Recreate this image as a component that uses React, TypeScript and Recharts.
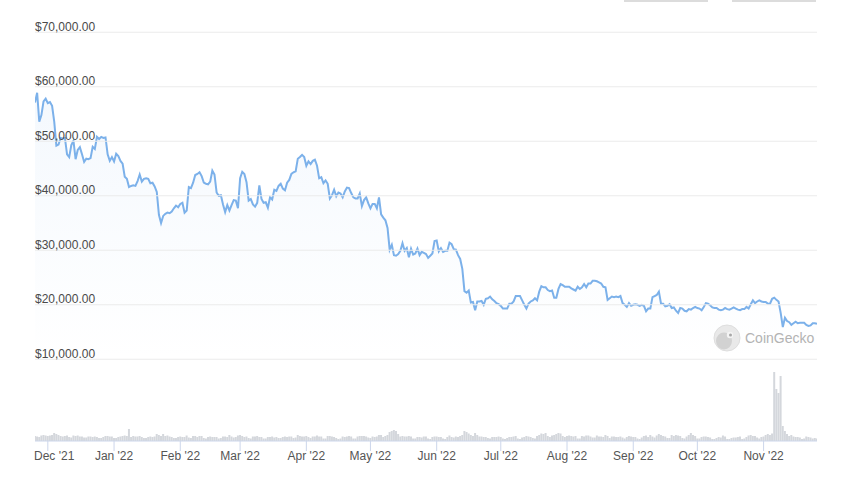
import React from 'react';
import { ComposedChart, Area, Bar, XAxis, YAxis, ReferenceLine } from 'recharts';

// Bitcoin price in thousand USD, one value per day (00:00 UTC), 25 Nov 2021 .. 26 Nov 2022
const priceNov21 = [57.1, 58.9, 53.6, 54.8, 57.3, 57.8];
const priceDec21 = [57.0, 57.2, 56.5, 53.6, 49.2, 49.4, 50.6, 50.5, 50.6, 47.6, 47.1, 49.3, 50.1, 46.7, 48.4, 48.9, 47.6, 46.2, 46.8, 46.7, 46.9, 49.0, 48.6, 50.8, 50.4, 50.8, 50.6, 50.7, 47.6, 46.4, 47.1];
const priceJan22 = [46.3, 47.7, 47.3, 46.4, 45.9, 43.5, 43.1, 41.6, 41.8, 41.9, 41.8, 42.7, 43.9, 42.6, 43.1, 43.2, 43.1, 42.3, 42.4, 41.7, 40.7, 36.5, 35.0, 36.3, 36.7, 36.9, 36.8, 37.1, 37.7, 38.2, 37.9];
const priceFeb22 = [38.5, 38.7, 36.9, 37.3, 41.6, 41.4, 42.4, 43.8, 44.0, 44.3, 43.6, 42.4, 42.2, 42.1, 42.6, 44.6, 43.9, 40.6, 40.0, 40.1, 38.4, 37.0, 38.3, 37.3, 38.3, 39.2, 39.1, 37.7];
const priceMar22 = [43.2, 44.4, 44.0, 42.5, 39.1, 39.4, 38.4, 38.0, 38.7, 41.9, 39.4, 38.7, 38.8, 37.8, 39.7, 39.3, 41.1, 40.9, 41.8, 42.2, 41.3, 41.0, 42.4, 42.9, 44.0, 44.3, 44.5, 46.8, 47.1, 47.5, 47.1];
const priceApr22 = [45.5, 46.3, 45.8, 46.4, 46.6, 45.5, 43.2, 43.4, 42.3, 42.8, 42.2, 39.5, 40.1, 41.1, 39.9, 40.6, 40.4, 39.7, 40.8, 41.5, 41.4, 40.5, 39.7, 39.5, 39.5, 40.4, 38.1, 39.2, 39.7, 38.6];
const priceMay22 = [37.7, 38.5, 38.5, 37.7, 39.7, 36.6, 36.0, 35.5, 34.1, 30.1, 31.0, 29.1, 29.0, 29.3, 29.9, 31.3, 29.9, 30.4, 28.7, 30.3, 29.2, 29.4, 30.3, 29.1, 29.7, 29.5, 29.3, 28.6, 29.0, 29.4, 31.7];
const priceJun22 = [31.8, 29.8, 30.4, 29.7, 29.9, 29.9, 31.4, 31.1, 30.2, 30.1, 29.1, 28.4, 26.6, 22.5, 22.2, 22.6, 20.4, 20.5, 19.0, 20.6, 20.6, 20.7, 20.0, 21.1, 21.2, 21.5, 21.0, 20.7, 20.3, 20.1];
const priceJul22 = [19.8, 19.3, 19.3, 19.3, 20.2, 20.2, 20.6, 21.6, 21.6, 21.6, 20.8, 20.0, 19.3, 20.2, 20.6, 20.8, 21.2, 20.8, 22.4, 23.4, 23.2, 23.2, 22.7, 22.5, 22.6, 21.3, 21.3, 22.9, 23.8, 23.6, 23.3];
const priceAug22 = [23.3, 23.3, 23.0, 22.8, 22.6, 23.3, 22.9, 23.2, 23.8, 23.2, 23.9, 23.9, 24.4, 24.4, 24.3, 24.1, 23.9, 23.3, 23.2, 20.9, 21.2, 21.5, 21.4, 21.5, 21.4, 21.6, 20.3, 20.0, 19.6, 20.3, 19.8];
const priceSep22 = [20.0, 20.1, 20.0, 19.8, 20.0, 19.8, 18.8, 19.3, 19.3, 21.4, 21.6, 21.8, 22.4, 20.2, 20.2, 19.7, 19.8, 20.1, 19.4, 19.5, 18.9, 18.5, 19.4, 19.3, 18.9, 18.8, 19.2, 19.1, 19.4, 19.6];
const priceOct22 = [19.4, 19.3, 19.0, 19.6, 20.3, 20.2, 19.9, 19.5, 19.4, 19.4, 19.1, 19.0, 19.1, 19.4, 19.2, 19.1, 19.3, 19.5, 19.3, 19.1, 19.0, 19.2, 19.2, 19.6, 19.3, 20.1, 20.8, 20.3, 20.6, 20.8, 20.6];
const priceNov22 = [20.5, 20.5, 20.2, 20.2, 21.1, 21.3, 20.9, 20.6, 18.5, 15.9, 17.6, 17.0, 16.8, 16.3, 16.6, 16.9, 16.6, 16.7, 16.7, 16.7, 16.3, 16.1, 16.2, 16.6, 16.6, 16.5];

// 24h trading volume, billion USD, same days
const volNov21 = [30, 27, 24, 33, 36, 33];
const volDec21 = [30, 33, 36, 48, 42, 36, 30, 27, 30, 33, 24, 21, 33, 30, 33, 27, 27, 21, 21, 27, 27, 24, 27, 24, 18, 18, 24, 30, 30, 27, 27];
const volJan22 = [18, 18, 24, 27, 30, 33, 30, 72, 24, 30, 27, 27, 30, 24, 18, 18, 24, 27, 24, 27, 42, 36, 30, 42, 30, 33, 27, 24, 18, 18, 24];
const volFeb22 = [27, 24, 24, 33, 21, 18, 30, 30, 24, 30, 30, 18, 15, 24, 27, 24, 24, 24, 15, 18, 27, 27, 24, 36, 27, 21, 24, 33];
const volMar22 = [36, 30, 24, 27, 18, 15, 27, 27, 30, 24, 24, 15, 15, 24, 24, 27, 21, 24, 18, 18, 24, 27, 24, 27, 27, 18, 21, 36, 30, 27, 27];
const volApr22 = [30, 24, 18, 27, 27, 33, 27, 27, 15, 15, 30, 30, 27, 24, 18, 12, 15, 27, 24, 27, 30, 27, 15, 15, 27, 30, 30, 30, 27, 21];
const volMay22 = [18, 27, 24, 27, 36, 36, 24, 30, 36, 54, 60, 66, 60, 42, 27, 30, 27, 27, 30, 27, 15, 15, 24, 24, 21, 27, 27, 15, 12, 24, 27];
const volJun22 = [27, 24, 24, 15, 12, 24, 33, 24, 21, 27, 24, 30, 36, 60, 54, 45, 36, 30, 48, 36, 27, 27, 24, 24, 18, 15, 24, 24, 24, 27];
const volJul22 = [24, 15, 12, 18, 24, 24, 27, 30, 15, 12, 21, 24, 30, 27, 24, 18, 15, 30, 36, 45, 42, 48, 30, 24, 33, 36, 42, 48, 45, 30, 24];
const volAug22 = [30, 33, 30, 27, 30, 15, 15, 30, 27, 33, 33, 27, 21, 21, 33, 27, 27, 24, 36, 30, 18, 27, 27, 24, 24, 27, 21, 15, 24, 30, 27];
const volSep22 = [24, 24, 15, 12, 21, 30, 33, 24, 36, 27, 21, 33, 42, 36, 30, 27, 18, 18, 36, 30, 36, 33, 30, 18, 15, 27, 36, 48, 36, 30];
const volOct22 = [15, 15, 24, 27, 27, 24, 21, 12, 12, 18, 24, 21, 33, 27, 12, 12, 18, 21, 21, 24, 27, 12, 15, 24, 33, 36, 30, 30, 21, 15, 24];
const volNov22 = [27, 36, 42, 36, 45, 414, 312, 288, 390, 90, 60, 42, 30, 36, 27, 24, 24, 21, 12, 15, 27, 24, 21, 15, 18, 15];

const priceTicks = [10000, 20000, 30000, 40000, 50000, 60000, 70000];
// day number (from 25 Nov 2021) of the first of each month
const monthTickDays = [6, 37, 68, 96, 127, 157, 188, 218, 249, 280, 310, 341];
const monthTickLabels = ["Dec '21", "Jan '22", "Feb '22", "Mar '22", "Apr '22", "May '22", "Jun '22", "Jul '22", "Aug '22", "Sep '22", "Oct '22", "Nov '22"];

const priceK = [
  ...priceNov21, ...priceDec21, ...priceJan22, ...priceFeb22, ...priceMar22, ...priceApr22,
  ...priceMay22, ...priceJun22, ...priceJul22, ...priceAug22, ...priceSep22, ...priceOct22, ...priceNov22,
];
const volumeB = [
  ...volNov21, ...volDec21, ...volJan22, ...volFeb22, ...volMar22, ...volApr22,
  ...volMay22, ...volJun22, ...volJul22, ...volAug22, ...volSep22, ...volOct22, ...volNov22,
];

const data = priceK.map((p, i) => ({ day: i, price: p * 1000, volume: volumeB[i] }));

const FONT = '"Liberation Sans", Arial, Helvetica, sans-serif';

const fmtPrice = (v: number) =>
  '$' + v.toLocaleString('en-US', { minimumFractionDigits: 2, maximumFractionDigits: 2 });

const makePriceLabel = (value: number) => (props: any) => {
  const vb = props.viewBox || {};
  return (
    <text x={vb.x} y={vb.y - 1.5} textAnchor="start" fontSize={12} fontFamily={FONT} fill="#4a4a4a">
      {fmtPrice(value)}
    </text>
  );
};

const MonthTick = (props: any) => {
  const { x, y, payload } = props;
  const idx = monthTickDays.indexOf(payload.value);
  const label = monthTickLabels[idx] ?? '';
  const first = idx === 0;
  return (
    <text
      x={first ? 34 : x}
      y={y + 7}
      textAnchor={first ? 'start' : 'middle'}
      fontSize={12}
      fontFamily={FONT}
      fill="#555555"
    >
      {label}
    </text>
  );
};

export default function App() {
  return (
    <div style={{ position: 'absolute', left: 0, top: 0, width: 850, height: 482, background: '#ffffff', overflow: 'hidden' }}>
      <div style={{ position: 'absolute', left: 624, top: 0, width: 84, height: 2, background: '#dcdcdc' }} />
      <div style={{ position: 'absolute', left: 732, top: 0, width: 84, height: 2, background: '#dcdcdc' }} />
      <ComposedChart
        width={850}
        height={482}
        data={data}
        margin={{ top: 5, right: 33, bottom: 0, left: 35 }}
      >
        <defs>
          <linearGradient id="priceFill" x1="0" y1="0" x2="0" y2="1">
            <stop offset="0%" stopColor="#7cb1ea" stopOpacity={0.14} />
            <stop offset="100%" stopColor="#7cb1ea" stopOpacity={0} />
          </linearGradient>
        </defs>
        <XAxis
          dataKey="day"
          type="number"
          domain={[0, 366]}
          ticks={monthTickDays}
          interval={0}
          height={41}
          axisLine={{ stroke: '#ccd6eb' }}
          tickLine={{ stroke: '#ccd6eb' }}
          tickSize={10}
          tick={<MonthTick />}
          allowDataOverflow
        />
        <YAxis yAxisId="p" type="number" domain={[-5000, 75000]} hide allowDataOverflow />
        <YAxis yAxisId="v" type="number" domain={[0, 2616]} hide allowDataOverflow />
        {priceTicks.map((t) => (
          <ReferenceLine
            key={t}
            yAxisId="p"
            y={t}
            stroke="#ebebeb"
            strokeWidth={1}
            label={makePriceLabel(t)}
          />
        ))}
        <Bar yAxisId="v" dataKey="volume" fill="#d4d7dc" barSize={2} isAnimationActive={false} />
        <Area
          yAxisId="p"
          type="linear"
          dataKey="price"
          stroke="#7cb1ea"
          strokeWidth={2}
          fill="url(#priceFill)"
          baseValue={10000}
          dot={false}
          activeDot={false}
          isAnimationActive={false}
        />
      </ComposedChart>
      <svg style={{ position: 'absolute', left: 0, top: 0, pointerEvents: 'none' }} width={850} height={482}>
        <circle cx={727} cy={338} r={13} fill="#e9e9e9" stroke="#dedede" strokeWidth={1} />
        <ellipse cx={724} cy={341} rx={8} ry={8.5} fill="#d2d2d2" />
        <circle cx={730} cy={335} r={3.2} fill="#f4f4f4" />
        <circle cx={730.5} cy={335} r={1.5} fill="#a8a8a8" />
        <text x={745} y={343} fontSize={14} fontFamily={FONT} fill="#b3b3b3">CoinGecko</text>
      </svg>
    </div>
  );
}
